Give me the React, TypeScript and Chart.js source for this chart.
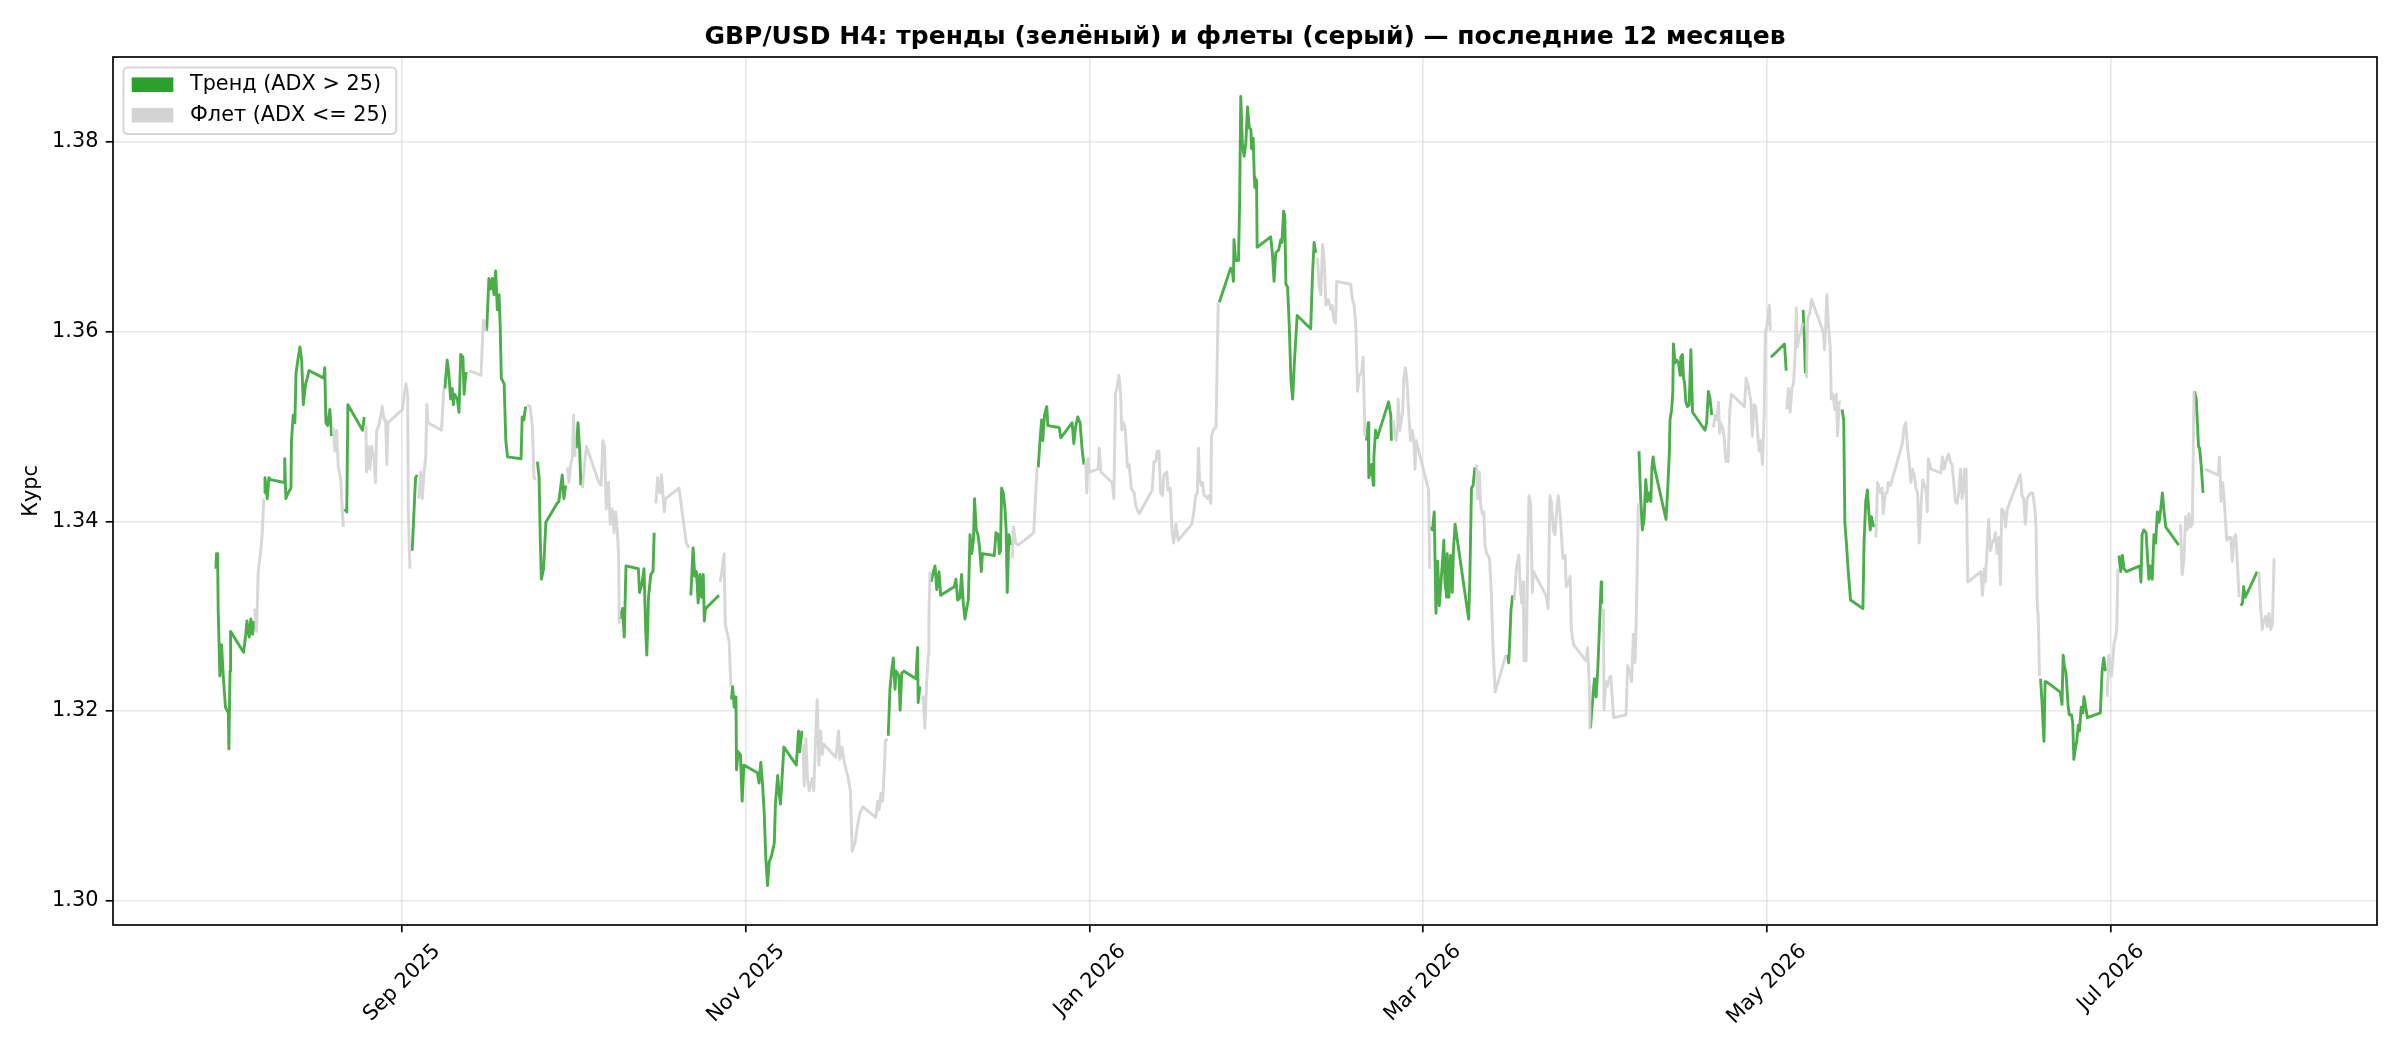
import { useEffect, useRef } from 'react';
import { Chart, registerables } from 'chart.js';

Chart.register(...registerables);

const FONT = "'DejaVu Sans', sans-serif";
Chart.defaults.font.family = FONT;

const TITLE = 'GBP/USD H4: тренды (зелёный) и флеты (серый) — последние 12 месяцев';
const Y_LABEL = 'Курс';
const LEGEND_LABELS = ['Тренд (ADX > 25)', 'Флет (ADX <= 25)'];
const TREND_COLOR = '#2ca02c';
const FLAT_COLOR = '#d3d3d3';

// day 0 of the series; every point below is [days since startDate, close]
const startDate = '2025-07-30';
const monthTicks = ['2025-09-01', '2025-11-01', '2026-01-01', '2026-03-01', '2026-05-01', '2026-07-01'];
const monthLabels = ['Sep 2025', 'Nov 2025', 'Jan 2026', 'Mar 2026', 'May 2026', 'Jul 2026'];
const priceTicks = [1.30, 1.32, 1.34, 1.36, 1.38];

// ADX > 25
const trendSegments: [number, number][][] = [
  [[0.0,1.3350],[0.1,1.3366],[0.3,1.3366],[0.4,1.3308],[0.7,1.3237],[1.0,1.3270],[1.3,1.3237],[1.5,1.3220],[1.7,1.3204],[2.2,1.3198],[2.3,1.3160],[2.5,1.3242],[2.6,1.3284],[4.9,1.3262],[5.3,1.3281],[5.5,1.3295],[5.9,1.3278],[6.2,1.3297],[6.5,1.3281],[6.8,1.3295]],
  [[8.6,1.3430],[8.7,1.3446],[9.1,1.3424],[9.4,1.3446],[9.7,1.3444],[12.1,1.3441],[12.2,1.3466],[12.4,1.3424],[12.8,1.3430],[13.3,1.3435],[13.4,1.3485],[13.7,1.3512],[14.0,1.3504],[14.2,1.3556],[14.6,1.3573],[14.9,1.3584],[15.2,1.3570],[15.5,1.3523],[15.9,1.3545],[16.2,1.3551],[16.5,1.3559],[19.1,1.3551],[19.3,1.3562],[19.5,1.3504],[19.8,1.3501],[20.2,1.3518],[20.5,1.3490]],
  [[22.8,1.3413],[23.2,1.3410],[23.4,1.3523],[26.0,1.3496],[26.3,1.3510]],
  [[34.8,1.3369],[35.1,1.3408],[35.4,1.3446],[35.7,1.3449]],
  [[40.6,1.3540],[41.0,1.3570],[41.3,1.3556],[41.6,1.3529],[41.9,1.3540],[42.1,1.3523],[42.3,1.3534],[42.8,1.3529],[43.1,1.3515],[43.4,1.3576],[43.8,1.3573],[44.0,1.3534],[44.3,1.3556],[44.6,1.3556]],
  [[48.0,1.3601],[48.4,1.3656],[48.7,1.3645],[49.0,1.3656],[49.3,1.3639],[49.6,1.3664],[49.9,1.3623],[50.2,1.3639],[50.4,1.3606],[50.6,1.3551],[51.1,1.3545],[51.4,1.3485],[51.7,1.3468],[54.1,1.3466],[54.3,1.3510],[54.6,1.3507],[54.9,1.3521]],
  [[57.0,1.3463],[57.3,1.3446],[57.5,1.3383],[57.7,1.3339],[58.1,1.3350],[58.5,1.3399],[60.5,1.3419],[60.8,1.3421],[61.1,1.3435],[61.4,1.3449],[61.7,1.3424],[62.0,1.3438]],
  [[63.9,1.3477],[64.2,1.3504],[64.5,1.3474],[64.7,1.3438]],
  [[71.6,1.3297],[72.1,1.3308],[72.4,1.3278],[72.7,1.3353],[74.9,1.3350],[75.1,1.3325],[75.5,1.3333],[75.9,1.3350],[76.2,1.3284],[76.4,1.3259],[76.7,1.3320],[77.1,1.3344],[77.5,1.3347],[77.7,1.3388]],
  [[84.2,1.3322],[84.6,1.3372],[84.9,1.3342],[85.2,1.3347],[85.5,1.3314],[85.8,1.3344],[86.1,1.3320],[86.4,1.3344],[86.6,1.3295],[86.8,1.3308],[89.2,1.3322]],
  [[91.4,1.3212],[91.6,1.3226],[91.9,1.3204],[92.2,1.3215],[92.3,1.3138],[92.6,1.3157],[93.0,1.3154],[93.3,1.3105],[93.6,1.3143],[96.0,1.3135],[96.3,1.3124],[96.6,1.3146],[96.9,1.3124],[97.2,1.3094],[97.5,1.3044],[97.8,1.3016],[98.1,1.3041],[98.5,1.3047],[99.0,1.3061],[99.2,1.3102],[99.6,1.3132],[99.8,1.3116],[100.1,1.3102],[100.4,1.3132],[100.7,1.3162],[102.9,1.3143],[103.3,1.3179],[103.5,1.3157],[103.9,1.3179]],
  [[119.2,1.3174],[119.5,1.3223],[119.8,1.3242],[120.1,1.3256],[120.4,1.3223],[120.6,1.3242],[121.1,1.3237],[121.3,1.3201],[121.6,1.3240],[122.0,1.3242],[124.1,1.3234],[124.4,1.3267],[124.5,1.3209],[124.8,1.3226]],
  [[126.8,1.3336],[127.2,1.3347],[127.5,1.3353],[127.8,1.3328],[128.2,1.3347],[128.5,1.3322],[130.9,1.3331],[131.2,1.3339],[131.5,1.3317],[131.9,1.3319],[132.2,1.3344],[132.5,1.3314],[132.8,1.3297],[133.1,1.3308],[133.4,1.3317],[133.7,1.3386],[134.0,1.3366],[134.3,1.3380],[134.5,1.3424],[134.8,1.3391],[135.1,1.3386],[135.4,1.3372],[135.7,1.3347],[135.9,1.3366],[138.0,1.3364],[138.3,1.3388],[138.7,1.3386],[138.9,1.3366],[139.1,1.3369],[139.3,1.3435],[139.6,1.3430],[139.9,1.3413],[140.1,1.3391],[140.3,1.3325],[140.6,1.3386],[140.9,1.3375]],
  [[145.8,1.3457],[146.1,1.3485],[146.4,1.3507],[146.6,1.3485],[146.9,1.3512],[147.3,1.3521],[147.5,1.3501],[149.5,1.3499],[149.8,1.3488],[151.8,1.3504],[152.1,1.3482],[152.4,1.3499],[152.8,1.3510],[153.2,1.3504],[153.6,1.3474],[153.9,1.3460]],
  [[177.9,1.3631],[179.9,1.3667],[180.2,1.3664],[180.4,1.3653],[180.5,1.3697],[180.8,1.3675],[181.3,1.3675],[181.5,1.3738],[181.7,1.3848],[182.0,1.3796],[182.3,1.3785],[182.6,1.3799],[182.9,1.3837],[183.2,1.3815],[183.5,1.3813],[183.6,1.3793],[183.9,1.3804],[184.1,1.3763],[184.2,1.3752],[184.5,1.3760],[184.6,1.3689],[187.0,1.3700],[187.3,1.3683],[187.6,1.3653],[187.9,1.3683],[188.4,1.3686],[188.8,1.3697],[189.0,1.3694],[189.3,1.3727],[189.5,1.3722],[189.7,1.3650],[190.0,1.3647],[190.3,1.3606],[190.6,1.3548],[190.9,1.3529],[191.2,1.3567],[191.7,1.3617],[194.1,1.3603],[194.4,1.3658],[194.7,1.3694],[195.0,1.3683]],
  [[204.0,1.3485],[204.3,1.3504],[204.4,1.3446],[204.9,1.3460],[205.2,1.3438],[205.3,1.3468],[205.6,1.3496],[205.9,1.3488],[207.9,1.3526],[208.3,1.3512],[208.4,1.3485]],
  [[215.4,1.3394],[215.7,1.3391],[216.0,1.3410],[216.3,1.3303],[216.6,1.3358],[216.9,1.3311],[217.2,1.3336],[217.5,1.3361],[217.7,1.3380],[217.9,1.3336],[218.2,1.3320],[218.3,1.3366],[218.6,1.3320],[218.9,1.3364],[219.2,1.3325],[219.4,1.3369],[219.7,1.3397],[222.1,1.3297],[222.3,1.3336],[222.6,1.3435],[222.9,1.3438],[223.2,1.3457]],
  [[229.0,1.3259],[229.2,1.3251],[229.4,1.3275],[229.6,1.3306],[229.9,1.3322]],
  [[243.7,1.3182],[243.9,1.3198],[244.4,1.3234],[244.7,1.3215],[245.0,1.3245],[245.3,1.3289],[245.6,1.3336],[245.7,1.3314]],
  [[252.3,1.3474],[252.6,1.3424],[252.9,1.3391],[253.2,1.3402],[253.5,1.3444],[253.8,1.3421],[254.1,1.3430],[254.4,1.3421],[254.6,1.3457],[254.8,1.3468],[255.1,1.3455],[257.1,1.3402],[257.4,1.3435],[257.7,1.3474],[257.8,1.3507],[258.1,1.3518],[258.3,1.3537],[258.4,1.3587],[258.7,1.3567],[259.0,1.3570],[259.3,1.3567],[259.6,1.3554],[259.7,1.3573],[260.0,1.3576],[260.2,1.3551],[260.4,1.3545],[260.6,1.3526],[260.9,1.3521],[261.2,1.3523],[261.5,1.3581],[261.8,1.3515],[264.0,1.3496],[264.3,1.3504],[264.6,1.3537],[264.9,1.3529],[265.2,1.3512]],
  [[275.7,1.3573],[278.1,1.3587],[278.4,1.3559]],
  [[281.4,1.3623],[281.6,1.3595],[281.8,1.3556]],
  [[288.3,1.3518],[288.6,1.3507],[288.8,1.3399],[289.1,1.3375],[289.4,1.3347],[289.6,1.3333],[289.8,1.3317],[292.0,1.3308],[292.2,1.3377],[292.5,1.3421],[292.8,1.3433],[293.1,1.3405],[293.3,1.3391],[293.5,1.3405],[293.8,1.3397],[294.0,1.3394]],
  [[323.5,1.3234],[323.8,1.3204],[324.1,1.3168],[324.3,1.3231],[324.5,1.3231],[327.0,1.3220],[327.3,1.3207],[327.5,1.3259],[327.7,1.3248],[328.0,1.3240],[328.4,1.3204],[328.6,1.3196],[329.0,1.3196],[329.2,1.3187],[329.4,1.3149],[329.7,1.3162],[329.9,1.3168],[330.2,1.3185],[330.4,1.3179],[330.7,1.3204],[331.0,1.3198],[331.2,1.3215],[331.5,1.3204],[331.8,1.3193],[334.1,1.3198],[334.4,1.3242],[334.7,1.3256],[335.0,1.3242]],
  [[337.4,1.3364],[337.7,1.3347],[338.0,1.3364],[338.3,1.3350],[338.7,1.3347],[341.1,1.3353],[341.3,1.3336],[341.5,1.3386],[341.8,1.3391],[342.2,1.3388],[342.7,1.3339],[343.0,1.3353],[343.3,1.3339],[343.6,1.3386],[343.9,1.3377],[344.2,1.3410],[344.5,1.3399],[344.8,1.3413],[345.1,1.3430],[345.4,1.3410],[345.7,1.3394],[348.0,1.3375]],
  [[350.8,1.3537],[351.1,1.3529],[351.5,1.3479],[351.7,1.3477],[352.0,1.3457],[352.3,1.3430]],
  [[359.0,1.3311],[359.3,1.3314],[359.5,1.3331],[359.8,1.3320],[361.9,1.3347]],
];

// ADX <= 25
const flatSegments: [number, number][][] = [
  [[6.9,1.3308],[7.2,1.3284],[7.5,1.3347],[7.9,1.3366],[8.2,1.3386],[8.5,1.3424]],
  [[20.8,1.3499],[21.1,1.3474],[21.4,1.3496],[21.7,1.3457],[22.1,1.3446],[22.4,1.3413],[22.6,1.3394]],
  [[26.6,1.3501],[26.7,1.3452],[27.0,1.3479],[27.3,1.3455],[27.6,1.3479],[28.0,1.3468],[28.3,1.3441],[28.5,1.3496],[28.9,1.3501],[29.5,1.3521],[29.8,1.3507],[30.1,1.3507],[30.3,1.3460],[30.5,1.3504],[33.1,1.3518],[33.4,1.3534],[33.7,1.3545],[34.0,1.3532],[34.1,1.3413],[34.4,1.3350]],
  [[36.0,1.3424],[36.3,1.3452],[36.6,1.3424],[36.9,1.3452],[37.2,1.3468],[37.4,1.3523],[37.6,1.3504],[40.0,1.3496],[40.4,1.3540]],
  [[44.9,1.3559],[47.0,1.3554],[47.4,1.3612],[47.8,1.3601]],
  [[55.2,1.3523],[55.7,1.3521],[56.1,1.3501],[56.4,1.3446],[56.7,1.3444]],
  [[62.3,1.3457],[62.6,1.3441],[62.9,1.3460],[63.2,1.3468],[63.4,1.3512],[63.7,1.3468]],
  [[65.0,1.3435],[65.3,1.3457],[65.7,1.3479],[67.9,1.3441],[68.3,1.3438],[68.6,1.3485],[68.9,1.3479],[69.2,1.3413],[69.6,1.3441],[69.9,1.3397],[70.3,1.3413],[70.6,1.3388],[70.9,1.3410],[71.2,1.3386],[71.4,1.3364],[71.5,1.3292]],
  [[78.0,1.3419],[78.3,1.3446],[78.7,1.3430],[79.0,1.3449],[79.5,1.3410],[79.7,1.3424],[82.1,1.3435],[82.7,1.3408],[83.2,1.3386],[83.4,1.3377],[83.9,1.3372]],
  [[89.4,1.3336],[89.7,1.3347],[90.1,1.3366],[90.3,1.3292],[90.7,1.3281],[91.0,1.3273],[91.3,1.3226]],
  [[104.1,1.3165],[104.3,1.3121],[104.6,1.3171],[104.9,1.3127],[105.2,1.3116],[105.7,1.3129],[106.0,1.3116],[106.3,1.3168],[106.6,1.3212],[106.9,1.3143],[107.2,1.3179],[107.5,1.3154],[107.8,1.3165],[109.9,1.3151],[110.4,1.3179],[110.6,1.3149],[111.0,1.3162],[111.4,1.3146],[112.0,1.3132],[112.5,1.3116],[112.8,1.3052],[113.3,1.3061],[113.7,1.3077],[114.1,1.3091],[114.7,1.3099],[117.0,1.3088],[117.3,1.3105],[117.6,1.3096],[117.9,1.3113],[118.2,1.3105],[118.5,1.3138],[118.7,1.3168],[119.0,1.3171]],
  [[125.1,1.3212],[125.4,1.3215],[125.7,1.3182],[126.0,1.3229],[126.3,1.3259],[126.4,1.3297],[126.6,1.3347]],
  [[141.2,1.3361],[141.4,1.3394],[141.8,1.3377],[142.2,1.3375],[142.7,1.3377],[145.0,1.3388],[145.3,1.3424],[145.6,1.3457]],
  [[154.2,1.3463],[154.4,1.3430],[154.6,1.3466],[154.8,1.3452],[156.4,1.3455],[156.6,1.3477],[156.9,1.3452],[158.9,1.3441],[159.2,1.3424],[159.5,1.3534],[159.8,1.3543],[160.1,1.3554],[160.4,1.3534],[160.6,1.3496],[160.9,1.3504],[161.2,1.3499],[161.6,1.3457],[161.9,1.3460],[162.3,1.3435],[162.8,1.3430],[163.1,1.3416],[163.7,1.3408],[166.0,1.3433],[166.3,1.3463],[166.6,1.3463],[166.9,1.3474],[167.2,1.3474],[167.5,1.3430],[167.8,1.3427],[168.1,1.3449],[168.6,1.3452],[168.8,1.3433],[169.2,1.3435],[169.5,1.3391],[169.8,1.3377],[170.2,1.3397],[170.6,1.3380],[173.0,1.3397],[173.4,1.3410],[173.7,1.3427],[174.0,1.3430],[174.2,1.3477],[174.4,1.3444],[174.7,1.3438],[174.9,1.3441],[175.2,1.3427],[175.5,1.3427],[175.8,1.3424],[176.1,1.3427],[176.4,1.3419],[176.5,1.3490],[176.8,1.3496],[177.3,1.3499],[177.4,1.3529],[177.7,1.3631]],
  [[195.3,1.3678],[195.6,1.3647],[195.9,1.3639],[196.2,1.3692],[196.5,1.3675],[196.8,1.3628],[197.2,1.3634],[197.7,1.3623],[197.9,1.3628],[198.2,1.3612],[198.5,1.3609],[198.7,1.3653],[201.2,1.3650],[201.5,1.3634],[201.8,1.3628],[202.1,1.3606],[202.4,1.3537],[202.7,1.3554],[203.1,1.3556],[203.4,1.3573],[203.7,1.3490]],
  [[208.7,1.3507],[209.2,1.3485],[209.5,1.3499],[209.6,1.3529],[209.9,1.3496],[210.4,1.3515],[210.6,1.3551],[210.9,1.3562],[211.2,1.3545],[211.5,1.3512],[211.8,1.3485],[212.1,1.3496],[212.4,1.3485],[212.6,1.3455],[212.8,1.3485],[215.0,1.3433],[215.2,1.3350]],
  [[223.5,1.3460],[223.7,1.3424],[224.0,1.3452],[224.2,1.3419],[224.5,1.3408],[224.8,1.3410],[225.0,1.3375],[225.3,1.3366],[225.5,1.3364],[225.8,1.3361],[226.1,1.3328],[226.4,1.3270],[226.8,1.3220],[228.7,1.3259]],
  [[230.2,1.3317],[230.5,1.3344],[230.7,1.3355],[231.0,1.3364],[231.3,1.3328],[231.5,1.3314],[231.8,1.3336],[231.9,1.3253],[232.3,1.3253],[232.6,1.3369],[232.8,1.3427],[233.1,1.3419],[233.4,1.3325],[233.6,1.3347],[235.8,1.3322],[236.2,1.3308],[236.5,1.3427],[236.8,1.3419],[237.1,1.3391],[237.4,1.3386],[237.7,1.3410],[238.0,1.3427],[238.3,1.3408],[238.5,1.3391],[238.8,1.3361],[239.2,1.3364],[239.4,1.3331],[239.8,1.3336],[240.1,1.3342],[240.3,1.3286],[240.7,1.3270],[242.9,1.3253],[243.2,1.3267],[243.5,1.3226],[243.6,1.3182]],
  [[246.0,1.3308],[246.1,1.3201],[246.4,1.3231],[246.7,1.3226],[247.0,1.3234],[247.3,1.3237],[247.8,1.3193],[250.0,1.3196],[250.3,1.3248],[250.8,1.3237],[251.0,1.3231],[251.3,1.3281],[251.6,1.3251],[251.8,1.3292],[252.1,1.3386],[252.2,1.3419]],
  [[265.5,1.3499],[265.8,1.3512],[266.1,1.3507],[266.4,1.3526],[266.6,1.3493],[266.8,1.3504],[267.1,1.3499],[267.4,1.3490],[267.7,1.3463],[268.1,1.3463],[268.4,1.3518],[268.7,1.3534],[271.0,1.3521],[271.3,1.3551],[271.6,1.3545],[271.9,1.3534],[272.1,1.3529],[272.4,1.3490],[272.7,1.3523],[273.0,1.3521],[273.3,1.3496],[273.6,1.3474],[273.9,1.3485],[274.2,1.3460],[274.5,1.3512],[274.7,1.3601],[275.0,1.3606],[275.4,1.3628],[275.6,1.3601]],
  [[278.5,1.3518],[278.8,1.3540],[279.1,1.3515],[279.4,1.3540],[279.7,1.3545],[280.0,1.3578],[280.2,1.3625],[280.4,1.3584],[280.7,1.3595],[281.0,1.3598],[281.3,1.3609]],
  [[282.0,1.3551],[282.2,1.3614],[282.6,1.3620],[282.9,1.3634],[284.9,1.3601],[285.2,1.3581],[285.4,1.3606],[285.6,1.3639],[285.9,1.3606],[286.2,1.3584],[286.4,1.3529],[286.7,1.3534],[287.0,1.3518],[287.3,1.3534],[287.5,1.3490],[287.8,1.3526],[288.1,1.3526]],
  [[294.3,1.3383],[294.6,1.3441],[295.1,1.3430],[295.4,1.3435],[295.6,1.3408],[296.0,1.3430],[296.3,1.3430],[296.5,1.3441],[296.9,1.3438],[299.0,1.3482],[299.3,1.3499],[299.6,1.3504],[299.9,1.3479],[300.2,1.3463],[300.5,1.3441],[300.8,1.3455],[301.1,1.3449],[301.4,1.3435],[301.7,1.3430],[302.0,1.3377],[302.3,1.3416],[302.6,1.3444],[302.9,1.3438],[303.2,1.3433],[303.4,1.3410],[303.6,1.3466],[304.1,1.3455],[305.8,1.3451],[306.1,1.3468],[306.4,1.3455],[306.7,1.3463],[307.0,1.3468],[307.2,1.3471],[307.5,1.3463],[307.8,1.3460],[308.1,1.3441],[308.4,1.3421],[308.7,1.3419],[309.0,1.3430],[309.3,1.3455],[309.6,1.3424],[309.8,1.3430],[310.0,1.3455],[310.3,1.3455],[310.6,1.3336],[312.9,1.3347],[313.2,1.3322],[313.5,1.3350],[313.7,1.3336],[314.0,1.3369],[314.3,1.3402],[314.6,1.3369],[314.9,1.3377],[315.2,1.3380],[315.5,1.3388],[315.8,1.3366],[316.1,1.3383],[316.4,1.3333],[316.6,1.3413],[317.0,1.3410],[317.3,1.3394],[317.6,1.3413],[319.9,1.3449],[320.2,1.3427],[320.5,1.3424],[320.8,1.3397],[321.1,1.3424],[321.4,1.3427],[321.7,1.3430],[322.1,1.3430],[322.5,1.3413],[322.7,1.3391],[322.9,1.3314],[323.1,1.3297],[323.3,1.3237]],
  [[335.3,1.3215],[335.6,1.3259],[336.1,1.3237],[336.5,1.3270],[336.8,1.3278],[337.0,1.3286],[337.2,1.3350]],
  [[348.3,1.3397],[348.6,1.3344],[348.9,1.3358],[349.2,1.3405],[349.5,1.3391],[349.8,1.3408],[350.1,1.3394],[350.4,1.3397],[350.7,1.3537]],
  [[352.6,1.3455],[355.0,1.3449],[355.2,1.3468],[355.5,1.3421],[355.8,1.3441],[356.1,1.3419],[356.5,1.3380],[356.9,1.3383],[357.2,1.3383],[357.5,1.3358],[357.8,1.3383],[358.1,1.3386],[358.4,1.3355],[358.7,1.3320]],
  [[362.2,1.3347],[362.5,1.3311],[362.8,1.3286],[363.1,1.3295],[363.4,1.3300],[363.7,1.3289],[364.0,1.3303],[364.3,1.3286],[364.6,1.3292],[364.9,1.3361]],
];

const dayOf = (iso: string) => (Date.parse(iso) - Date.parse(startDate)) / 86400000;

// segments joined with a null so a regime change breaks the line
function toLine(segments: [number, number][][]) {
  const out: { x: number; y: number | null }[] = [];
  segments.forEach((seg, i) => {
    seg.forEach(([x, y]) => out.push({ x, y }));
    if (i < segments.length - 1) out.push({ x: seg[seg.length - 1][0], y: null });
  });
  return out;
}

const allPoints = [...trendSegments, ...flatSegments].flat();
const xs = allPoints.map((p) => p[0]);
const ys = allPoints.map((p) => p[1]);
const xMin = Math.min(...xs);
const xMax = Math.max(...xs);
const yMin = Math.min(...ys);
const yMax = Math.max(...ys);
const xPad = (xMax - xMin) * 0.05;
const yPad = (yMax - yMin) * 0.05;

const FS = 20.8;
const GRID = 'rgba(176,176,176,0.3)';

const decorations = {
  id: 'decorations',
  afterDraw(chart: any) {
    const { ctx, chartArea: a, scales } = chart;
    ctx.save();

    // frame
    ctx.strokeStyle = '#000';
    ctx.lineWidth = 1.67;
    ctx.strokeRect(a.left, a.top, a.right - a.left, a.bottom - a.top);

    // title
    ctx.fillStyle = '#000';
    ctx.font = `bold 25px ${FONT}`;
    ctx.textAlign = 'center';
    ctx.textBaseline = 'alphabetic';
    ctx.fillText(TITLE, (a.left + a.right) / 2, a.top - 13.5);

    // rotated month labels, centred under the tick like matplotlib
    ctx.font = `${FS}px ${FONT}`;
    const h = FS * 1.164;
    monthTicks.forEach((d, i) => {
      const px = scales.x.getPixelForValue(dayOf(d));
      const w = ctx.measureText(monthLabels[i]).width;
      ctx.save();
      ctx.translate(px, a.bottom + 14.6 + 0.3536 * (w + h));
      ctx.rotate(-Math.PI / 4);
      ctx.textAlign = 'center';
      ctx.textBaseline = 'middle';
      ctx.fillText(monthLabels[i], 0, 0);
      ctx.restore();
    });

    // y axis label
    const tickW = Math.max(...priceTicks.map((v) => ctx.measureText(v.toFixed(2)).width));
    ctx.save();
    ctx.translate(a.left - 14.6 - tickW - 8.3 - h / 2, (a.top + a.bottom) / 2);
    ctx.rotate(-Math.PI / 2);
    ctx.textAlign = 'center';
    ctx.textBaseline = 'middle';
    ctx.fillText(Y_LABEL, 0, 0);
    ctx.restore();

    // legend, upper left
    const bx = a.left + 0.5 * FS;
    const by = a.top + 0.5 * FS;
    const textW = Math.max(...LEGEND_LABELS.map((t) => ctx.measureText(t).width));
    const bw = 0.4 * FS + 2 * FS + 0.8 * FS + textW + 0.4 * FS;
    const bh = 66.5;
    ctx.beginPath();
    ctx.roundRect(bx, by, bw, bh, 0.2 * FS);
    ctx.fillStyle = 'rgba(255,255,255,0.8)';
    ctx.fill();
    ctx.strokeStyle = 'rgba(204,204,204,0.8)';
    ctx.lineWidth = 2;
    ctx.stroke();
    [TREND_COLOR, FLAT_COLOR].forEach((c, i) => {
      const cy = by + 17.3 + i * 30.5;
      ctx.fillStyle = c;
      ctx.fillRect(bx + 0.4 * FS, cy - 0.35 * FS, 2 * FS, 0.7 * FS);
      ctx.fillStyle = '#000';
      ctx.textAlign = 'left';
      ctx.textBaseline = 'middle';
      ctx.fillText(LEGEND_LABELS[i], bx + 3.2 * FS, cy);
    });

    ctx.restore();
  },
};

function TrendChart() {
  const chartRef = useRef<HTMLCanvasElement>(null);

  useEffect(() => {
    document.body.style.margin = '0';
    const context = chartRef.current?.getContext('2d');
    if (!context) return undefined;

    const gridOpts = {
      color: GRID,
      lineWidth: 1.6,
      tickColor: '#000',
      tickLength: 7.3,
      tickWidth: 1.67,
    };

    const chartInstance = new Chart(context, {
      type: 'line',
      data: {
        datasets: [
          // flat first so it is painted over the trend line
          { label: LEGEND_LABELS[1], data: toLine(flatSegments), borderColor: 'rgba(211,211,211,0.9)' },
          { label: LEGEND_LABELS[0], data: toLine(trendSegments), borderColor: 'rgba(44,160,44,0.85)' },
        ],
      },
      options: {
        animation: false,
        responsive: false,
        devicePixelRatio: 1,
        layout: { padding: { top: 57, right: 23, left: 0, bottom: 0 } },
        elements: {
          point: { radius: 0 },
          line: { tension: 0, borderWidth: 2.9, borderJoinStyle: 'round' },
        },
        plugins: {
          legend: { display: false },
          title: { display: false },
          tooltip: { enabled: false },
        },
        scales: {
          x: {
            type: 'linear',
            min: xMin - xPad,
            max: xMax + xPad,
            afterBuildTicks: (s: any) => {
              s.ticks = monthTicks.map((d) => ({ value: dayOf(d) }));
            },
            afterFit: (s: any) => {
              s.height = 125;
            },
            ticks: { display: false },
            grid: gridOpts,
            border: { display: false },
          },
          y: {
            type: 'linear',
            min: yMin - yPad,
            max: yMax + yPad,
            afterBuildTicks: (s: any) => {
              s.ticks = priceTicks.map((v) => ({ value: v }));
            },
            afterFit: (s: any) => {
              s.width = 113;
            },
            ticks: {
              color: '#000',
              font: { size: FS, family: FONT },
              padding: 7.3,
              callback: (v: any) => Number(v).toFixed(2),
            },
            grid: gridOpts,
            border: { display: false },
          },
        },
      },
      plugins: [decorations],
    });

    return () => {
      chartInstance.destroy();
    };
  }, []);

  return (
    <div style={{ width: 2400, height: 1050, background: '#fff' }}>
      <canvas ref={chartRef} width={2400} height={1050} style={{ display: 'block' }}></canvas>
    </div>
  );
}

export default function App() {
  return <TrendChart />;
}
